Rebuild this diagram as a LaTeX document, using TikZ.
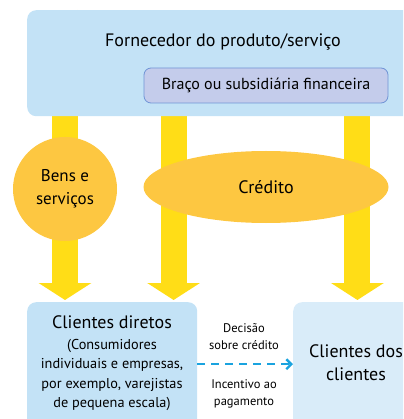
\documentclass[tikz,border=0pt]{standalone}
\usepackage{fontspec}
\setmainfont{PT Sans}
\usetikzlibrary{positioning}
\usetikzlibrary{arrows.meta,shapes.geometric,backgrounds}

\definecolor{panelblue}{HTML}{C3E2F6}
\definecolor{paleblue}{HTML}{D9ECF9}
\definecolor{armlavender}{HTML}{C4CCEB}
\definecolor{armborder}{HTML}{7094D6}
\definecolor{flowyellow}{HTML}{FFDD17}
\definecolor{discorange}{HTML}{FDC741}
\definecolor{decisioncyan}{HTML}{1AA3DF}

\begin{document}
\begin{tikzpicture}[x=1pt,y=-1pt,
	panel/.style={fill=panelblue,rounded corners=9pt,inner sep=0pt},
	disc/.style={fill=discorange,inner sep=0pt,font=\fontsize{17}{23}\selectfont},
	flow/.style={line width=26pt,draw=flowyellow,-{Triangle[width=52pt,length=17pt]},shorten >=2pt}]

	\useasboundingbox (0,0) rectangle (403,419);
	\clip (0,0) rectangle (403,419);

	%the supplier and its financing arm
	\begin{scope}[font=\fontsize{18}{21}\selectfont]
		\node[panel, minimum width=390pt, minimum height=106pt, anchor=north west] (forn) at (27,10) {};
		\node (fornlbl) at (223,42) {Fornecedor do produto/serviço};
		\node[panel, fill=armlavender, draw=armborder, line width=0.8pt, rounded corners=7pt,
			minimum width=244pt, minimum height=35pt, font=\fontsize{16}{19}\selectfont] (braco) at (266,85.5) {Braço ou subsidiária financeira};
	\end{scope}

	%what flows down to the clients
	\node[disc, circle, minimum size=104pt, align=center] (bens) at (65,189) {Bens e\\serviços};
	\node[disc, ellipse, minimum width=245pt, minimum height=72pt, font=\fontsize{18}{21}\selectfont] (credito) at (266,187) {Crédito};

	%the clients and the clients' clients
	\begin{scope}
		\node[panel, minimum width=170pt, minimum height=130pt, anchor=north west] (diretos) at (27,302) {};
		\node[font=\fontsize{18}{21}\selectfont] (diretoslbl) at (112,322) {Clientes diretos};
		\node[align=center, font=\fontsize{14.3}{19.5}\selectfont] (diretosdesc) at (112,375) {(Consumidores\\individuais e empresas,\\por exemplo, varejistas\\de pequena escala)};

		\node[panel, fill=paleblue, minimum width=130pt, minimum height=130pt, anchor=north west] (indiretos) at (293,302) {};
		\node[align=center, font=\fontsize{18}{23}\selectfont] (indiretoslbl) at (356,363) {Clientes dos\\clientes};
	\end{scope}

	%credit decision between the two groups
	\draw[decisioncyan, line width=2.4pt, dash pattern=on 8pt off 6pt, -{Straight Barb[length=5pt,width=10pt]}]
		([yshift=3pt]diretos.east) -- ([yshift=3pt]indiretos.west);
	\node[align=center, font=\fontsize{12.5}{17}\selectfont] (decisao) at (244,337) {Decisão\\sobre crédito};
	\node[align=center, font=\fontsize{12.5}{17}\selectfont] (incentivo) at (244,394) {Incentivo ao\\pagamento};

	%finally, the yellow flow arrows behind everything
	\begin{pgfonlayer}{background}
		\draw[flow] (bens |- forn.north) -- (bens |- diretos.north);
		\draw[flow] ([xshift=30pt]braco.south west) -- ([xshift=30pt]braco.south west |- diretos.north);
		\draw[flow] ([xshift=-31pt]braco.south east) -- ([xshift=-31pt]braco.south east |- indiretos.north);
	\end{pgfonlayer}
\end{tikzpicture}
\end{document}
